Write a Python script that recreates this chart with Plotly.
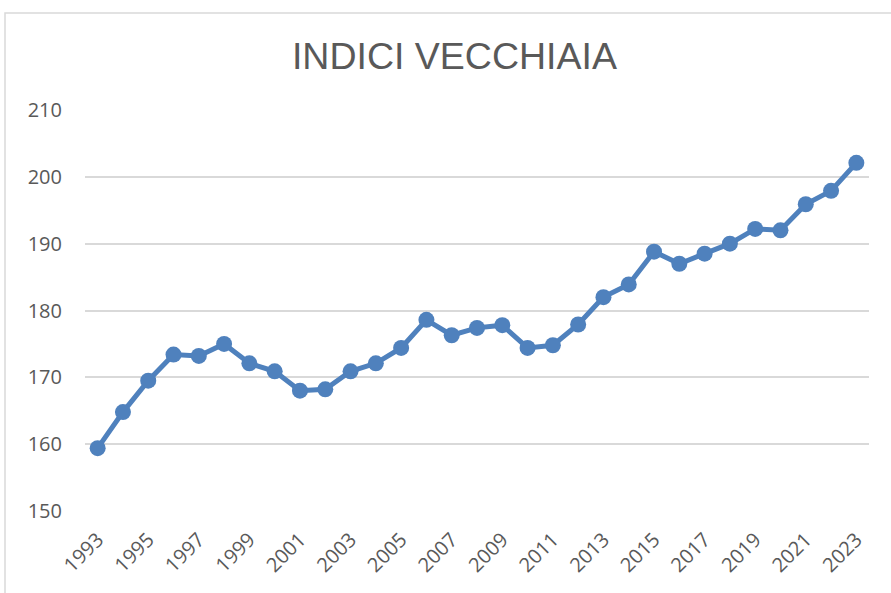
import plotly.graph_objects as go

years = list(range(1993, 2024))
indice = [159.4, 164.8, 169.5, 173.4, 173.2, 175.0, 172.1, 170.9, 168.0, 168.2,
          170.9, 172.1, 174.4, 178.6, 176.3, 177.4, 177.8, 174.4, 174.8, 177.9,
          182.0, 183.9, 188.8, 187.0, 188.5, 190.0, 192.2, 192.0, 195.9, 197.9, 202.1]
tick_years = years[::2]
tick_labels = [str(y) for y in tick_years]
y_ticks = [150, 160, 170, 180, 190, 200, 210]

W, H = 891, 593
L, R, T, B = 85, 22, 110, 82

fig = go.Figure()
fig.add_trace(go.Scatter(
    x=years, y=indice, mode="lines+markers",
    line=dict(color="#4F81BD", width=5),
    marker=dict(color="#4F81BD", size=16),
    showlegend=False, cliponaxis=False,
))

pw = W - L - R
ph = H - T - B
fig.add_shape(type="rect", xref="paper", yref="paper",
              x0=(5 - L) / pw, x1=(W + 5 - L) / pw,
              y0=(H - B - (H + 5)) / ph, y1=(H - B - 13) / ph,
              line=dict(color="#D9D9D9", width=1.5), fillcolor="rgba(0,0,0,0)", layer="below")

fig.update_layout(
    width=W, height=H,
    margin=dict(l=L, r=R, t=T, b=B),
    paper_bgcolor="white", plot_bgcolor="white",
    title=dict(text="INDICI VECCHIAIA", x=0.51, xanchor="center", y=0.905, yanchor="middle",
               font=dict(family="Liberation Sans Narrow, Liberation Sans, Arial", size=37.5, color="#595959")),
    xaxis=dict(range=[1992.5, 2023.5], tickvals=tick_years, ticktext=tick_labels,
               tickangle=-45, showgrid=False, zeroline=False, showline=False,
               ticks="", ticklabelstandoff=12,
               tickfont=dict(family="Open Sans, Liberation Sans", size=20, color="#595959")),
    yaxis=dict(range=[150, 210], tickvals=y_ticks, showgrid=True, gridcolor="#D9D9D9",
               gridwidth=1.5, zeroline=False, showline=False, ticks="", ticklabelstandoff=22,
               tickfont=dict(family="Open Sans, Liberation Sans", size=20, color="#595959")),
)

fig.write_html("out.html", post_script="document.body.style.margin='0';",
               config={"displayModeBar": False})
